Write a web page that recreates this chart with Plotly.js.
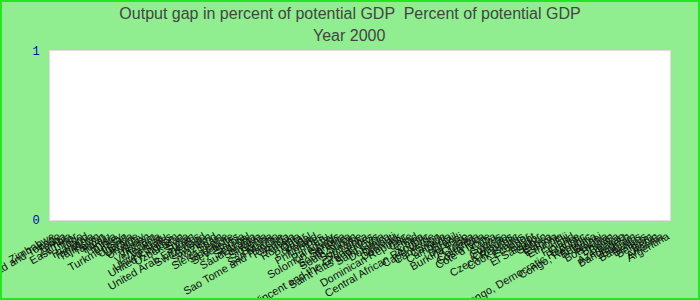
<!DOCTYPE html>
<html>
<head>
<meta charset="utf-8">
<script src="https://cdn.plot.ly/plotly-3.0.1.min.js"></script>
<style>
html,body{margin:0;padding:0;background:#90EE90;}
#wrap{position:relative;width:700px;height:300px;}
#chart{width:700px;height:300px;}
#frame{position:absolute;left:0;top:0;width:700px;height:300px;box-sizing:border-box;border:2px solid #22e622;pointer-events:none;}
</style>
</head>
<body>
<div id="wrap"><div id="chart"></div><div id="frame"></div></div>
<script>
var countries = [
 "Zimbabwe","Trinidad and Tobago","Tonga","Zambia","East Timor","Togo","Thailand","Tanzania",
 "Tajikistan","Taiwan","Tuvalu","Tunisia","Turkey","Turkmenistan","Uganda","Ukraine","Uruguay",
 "Yemen","Vietnam","Venezuela","Vanuatu","United States","United Kingdom","Uzbekistan","Syria",
 "Sudan","United Arab Emirates","Switzerland","Sweden","Swaziland","Spain","Sierra Leone",
 "Singapore","Seychelles","Serbia","Senegal","Saudi Arabia","Slovakia","Slovenia","Samoa",
 "San Marino","Sao Tome and Principe","Rwanda","Russia","Romania","Qatar","Portugal","Poland",
 "Philippines","Peru","Paraguay","Solomon Islands","Somalia","South Africa","South Sudan",
 "Suriname","Sri Lanka","Saint Vincent and the Grenadines","Saint Kitts and Nevis","Saint Lucia",
 "Dominica","Djibouti","Denmark","Dominican Republic","Chile","Chad","China",
 "Central African Republic","Cape Verde","Cameroon","Canada","Cambodia","Brazil","Burundi",
 "Burkina Faso","Croatia","Colombia","Costa Rica","Cote d'Ivoire","Cuba","Cyprus","Curacao",
 "Comoros","Czech Republic","Cook Islands","Ecuador","Egypt","El Salvador","Gabon",
 "Eritrea","Estonia","Ethiopia","Fiji","Finland","France","Congo, Democratic Republic",
 "Congo, Republic","Bulgaria","Brunei","Botswana","Bhutan","Bolivia",
 "Azerbaijan","Bangladesh","Bahrain","Barbados","Belarus","Belgium","Benin","Armenia","Argentina"
];
var outputGap = countries.map(function(){ return null; });
var titleLine = 'Output gap in percent of potential GDP  Percent of potential GDP';
var yearLabel = 'Year 2000';

var trace = {
  type: 'bar',
  x: countries,
  y: outputGap,
  marker: {color: '#1f77b4'},
  hoverinfo: 'x+y'
};

var layout = {
  width: 700, height: 300,
  paper_bgcolor: '#90EE90',
  plot_bgcolor: '#ffffff',
  margin: {l: 50, r: 30, t: 51, b: 80, pad: 0},
  title: {
    text: titleLine,
    font: {family: 'Arial, Liberation Sans, sans-serif', size: 16, color: '#444'},
    x: 0.5, xanchor: 'center', yref: 'container', y: 0.955, yanchor: 'middle'
  },
  annotations: [{
    text: yearLabel, showarrow: false,
    xref: 'paper', yref: 'paper', x: 0.482, y: 1.089, xanchor: 'center', yanchor: 'middle',
    font: {family: 'Arial, Liberation Sans, sans-serif', size: 16, color: '#444'}
  }],
  xaxis: {
    type: 'category',
    categoryorder: 'array',
    categoryarray: countries,
    tickmode: 'linear', tick0: 0, dtick: 1,
    tickangle: -30,
    tickfont: {family: 'Arial, Liberation Sans, sans-serif', size: 11, color: '#111'},
    showgrid: false, zeroline: false,
    showline: true, mirror: true, linecolor: '#dddddd', linewidth: 1,
    ticks: '', ticklabelstandoff: 5
  },
  yaxis: {
    range: [0, 1],
    tickvals: [0, 1],
    ticktext: ['0', '1'],
    tickfont: {family: 'Liberation Mono, DejaVu Sans Mono, monospace', size: 12, color: '#0000b4'},
    showgrid: false, zeroline: false,
    showline: true, mirror: true, linecolor: '#dddddd', linewidth: 1,
    ticks: '', ticklabelstandoff: 7
  },
  showlegend: false
};

Plotly.newPlot('chart', [trace], layout, {displayModeBar: false, staticPlot: true});
</script>
</body>
</html>
